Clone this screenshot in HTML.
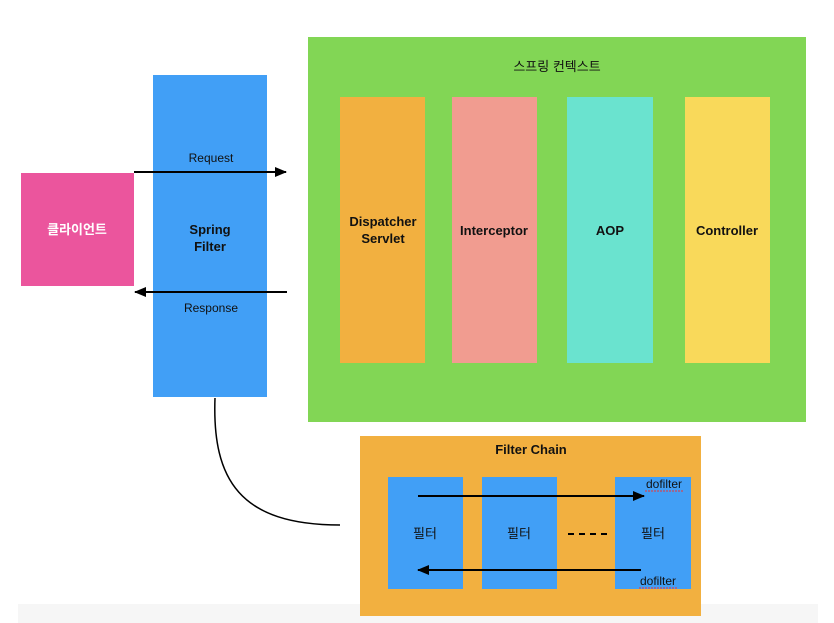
<!DOCTYPE html>
<html><head><meta charset="utf-8"><style>
body{margin:0;background:#fff}
svg{display:block}
text{font-family:"Liberation Sans","Noto Sans CJK KR",sans-serif;fill:#111}
</style></head><body>
<svg width="834" height="623" viewBox="0 0 834 623">
<defs><marker id="a" markerWidth="8" markerHeight="8" refX="7" refY="4" orient="auto" markerUnits="userSpaceOnUse" viewBox="0 0 8 8"><path d="M0,0L8,4L0,8z" fill="#000"/></marker>
<marker id="b" markerWidth="12" markerHeight="10" refX="11" refY="5" orient="auto" markerUnits="userSpaceOnUse"><path d="M0,0L12,5L0,10z" fill="#000"/></marker></defs>
<rect x="18" y="604" width="800" height="19" fill="#f6f6f6"/>
<rect x="308" y="37" width="498" height="385" fill="#82d655"/>
<text x="557" y="71" font-size="13" text-anchor="middle">스프링 컨텍스트</text>
<rect x="340" y="97" width="85" height="266" fill="#f2b040"/>
<rect x="452" y="97" width="85" height="266" fill="#f19c90"/>
<rect x="567" y="97" width="86" height="266" fill="#6ae3cf"/>
<rect x="685" y="97" width="85" height="266" fill="#f9d95a"/>
<text x="383" y="226" font-size="13" font-weight="bold" text-anchor="middle">Dispatcher</text>
<text x="383" y="243" font-size="13" font-weight="bold" text-anchor="middle">Servlet</text>
<text x="494" y="235" font-size="13" font-weight="bold" text-anchor="middle">Interceptor</text>
<text x="610" y="235" font-size="13" font-weight="bold" text-anchor="middle">AOP</text>
<text x="727" y="235" font-size="13" font-weight="bold" text-anchor="middle">Controller</text>
<rect x="153" y="75" width="114" height="322" fill="#419ff6"/>
<rect x="21" y="173" width="113" height="113" fill="#eb559d"/>
<text x="77" y="234" font-size="13" font-weight="bold" fill="#fff" style="fill:#fff" text-anchor="middle">클라이언트</text>
<text x="210" y="234" font-size="13" font-weight="bold" text-anchor="middle">Spring</text>
<text x="210" y="251" font-size="13" font-weight="bold" text-anchor="middle">Filter</text>
<text x="211" y="162" font-size="12" text-anchor="middle">Request</text>
<text x="211" y="312" font-size="12" text-anchor="middle">Response</text>
<line x1="134" y1="172" x2="286" y2="172" stroke="#000" stroke-width="2" marker-end="url(#b)"/>
<line x1="287" y1="292" x2="135" y2="292" stroke="#000" stroke-width="2" marker-end="url(#b)"/>
<path d="M215,398 C212,480 240,525 340,525" fill="none" stroke="#000" stroke-width="1.5"/>
<rect x="360" y="436" width="341" height="180" fill="#f2b040"/>
<text x="531" y="454" font-size="13" font-weight="bold" text-anchor="middle">Filter Chain</text>
<rect x="388" y="477" width="75" height="112" fill="#419ff6"/>
<rect x="482" y="477" width="75" height="112" fill="#419ff6"/>
<rect x="615" y="477" width="76" height="112" fill="#419ff6"/>
<text x="425" y="538" font-size="13" text-anchor="middle">필터</text>
<text x="519" y="538" font-size="13" text-anchor="middle">필터</text>
<text x="653" y="538" font-size="13" text-anchor="middle">필터</text>
<line x1="568" y1="534" x2="608" y2="534" stroke="#000" stroke-width="2" stroke-dasharray="6,5"/>
<text x="664" y="488" font-size="12" text-anchor="middle">dofilter</text>
<line x1="645" y1="491" x2="683" y2="491" stroke="#e33" stroke-width="1" stroke-dasharray="2,1"/>
<text x="658" y="585" font-size="12" text-anchor="middle">dofilter</text>
<line x1="639" y1="588" x2="677" y2="588" stroke="#e33" stroke-width="1" stroke-dasharray="2,1"/>
<line x1="418" y1="496" x2="644" y2="496" stroke="#000" stroke-width="2" marker-end="url(#b)"/>
<line x1="641" y1="570" x2="418" y2="570" stroke="#000" stroke-width="2" marker-end="url(#b)"/>
</svg>
</body></html>
